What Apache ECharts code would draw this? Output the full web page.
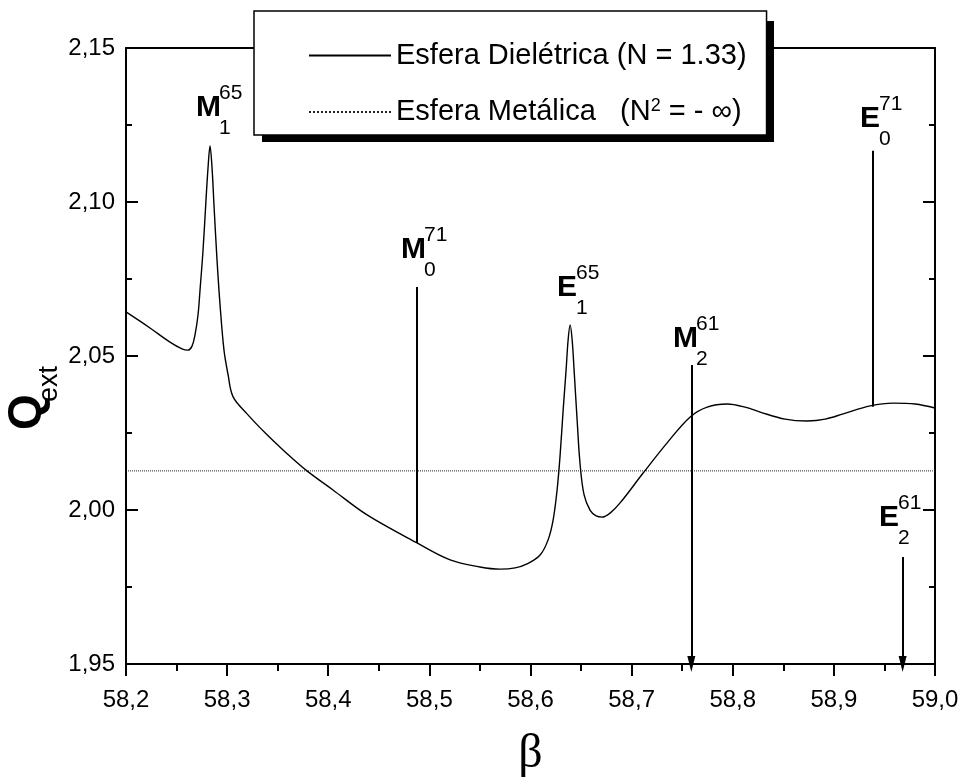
<!DOCTYPE html>
<html>
<head>
<meta charset="utf-8">
<script src="https://cdn.jsdelivr.net/npm/echarts@6/dist/echarts.min.js"></script>
<style>
html, body { margin: 0; padding: 0; background: #fff; }
#main { width: 961px; height: 780px; }
</style>
</head>
<body>
<div id="main"></div>
<script>
var myChart = echarts.init(document.getElementById('main'));

// Esfera dielétrica (N = 1.33): beta / Q_ext
var betaDiel = [58.2000, 58.2237, 58.2435, 58.2554, 58.2613, 58.2653, 58.2682, 58.2712, 58.2732, 58.2762,
    58.2791, 58.2811, 58.2831, 58.2851, 58.2870, 58.2900, 58.2930, 58.2969, 58.3009, 58.3058,
    58.3197, 58.3395, 58.3553, 58.3790, 58.4047, 58.4384, 58.4878, 58.5205, 58.5501,
    58.5699, 58.5848, 58.5966, 58.6095, 58.6174, 58.6224, 58.6263, 58.6293, 58.6323, 58.6352,
    58.6372, 58.6392, 58.6412, 58.6431, 58.6461, 58.6491, 58.6530, 58.6590, 58.6649, 58.6708,
    58.6787, 58.6886, 58.7114, 58.7351, 58.7579, 58.7747, 58.7945, 58.8122, 58.8271, 58.8518,
    58.8736, 58.8914, 58.9092, 58.9359, 58.9587, 58.9804, 59.0000];
var qDiel = [2.0643, 2.0591, 2.0545, 2.0523, 2.0519, 2.0532, 2.0568, 2.0633, 2.0714, 2.0844,
    2.1006, 2.1110, 2.1182, 2.1110, 2.0990, 2.0812, 2.0666, 2.0519, 2.0440, 2.0368,
    2.0312, 2.0244, 2.0195, 2.0127, 2.0065, 1.9984, 1.9893, 1.9838, 1.9815,
    1.9808, 1.9812, 1.9825, 1.9854, 1.9903, 1.9968, 2.0065, 2.0179, 2.0325, 2.0455,
    2.0552, 2.0601, 2.0552, 2.0455, 2.0292, 2.0146, 2.0049, 1.9999, 1.9981, 1.9977,
    1.9990, 2.0023, 2.0120, 2.0218, 2.0302, 2.0334, 2.0344, 2.0334, 2.0318, 2.0295,
    2.0289, 2.0295, 2.0312, 2.0338, 2.0347, 2.0344, 2.0331];

// Esfera metálica (N^2 = -inf)
var betaMetal = [58.2, 59.0];
var qMetal = [2.0127, 2.0127];

// rótulos dos modos (letra, índice inferior, índice superior, posição)
var annoLetter = ['M', 'M', 'E', 'M', 'E', 'E'];
var annoSub = ['1', '0', '1', '2', '0', '2'];
var annoSup = ['65', '71', '65', '61', '71', '61'];
var annoBeta = [58.2692, 58.4719, 58.6262, 58.7409, 58.9258, 58.9446];
var annoQ = [2.1305, 2.0844, 2.0721, 2.0555, 2.1270, 1.9974];

// linhas verticais dos modos
var markBeta = [58.488, 58.759, 58.938, 58.968];
var markTop = [2.0724, 2.0471, 2.1166, 1.9847];
var markBottom = [1.9893, 1.95, 2.0335, 1.95];
var markArrow = [false, true, false, true];

var legendNames = ['Esfera Dielétrica (N = 1.33)', 'Esfera Metálica   (N2 = - ∞)'];

function zip(a, b) {
    return a.map(function (v, i) { return [v, b[i]]; });
}

var markData = markBeta.map(function (b, i) {
    return [
        { coord: [b, markTop[i]], symbol: 'none' },
        { coord: [b, markBottom[i]], symbol: markArrow[i] ? 'triangle' : 'none' }
    ];
});

var font = 'Liberation Sans';
var axisBlack = { color: '#000', width: 2 };

option = {
    backgroundColor: '#fff',
    animation: false,
    grid: {
        left: 126,
        right: 26,
        top: 48,
        bottom: 116,
        outerBoundsMode: 'none'
    },
    legend: {
        left: 254,
        top: 11,
        z: 10,
        orient: 'vertical',
        data: legendNames,
        itemWidth: 82,
        itemHeight: 14,
        itemGap: 27,
        padding: [30, 20, 6, 54],
        backgroundColor: '#fff',
        borderColor: '#000',
        borderWidth: 1.5,
        borderRadius: 0,
        selectedMode: false,
        itemStyle: { opacity: 0, borderWidth: 0 },
        formatter: function (name) {
            if (name === legendNames[1]) {
                return '{t|Esfera Metálica   (N}{s|2}{t| = - ∞)}';
            }
            return '{t|' + name + '}';
        },
        textStyle: {
            width: 360,
            rich: {
                t: { fontSize: 29, fontFamily: font, color: '#000', lineHeight: 30 },
                s: { fontSize: 18, fontFamily: font, color: '#000', verticalAlign: 'top', lineHeight: 30, padding: [0, 0, 14, 0] }
            }
        }
    },
    xAxis: [{
        type: 'value',
        min: 58.2,
        max: 59.0,
        interval: 0.1,
        name: 'β',
        nameLocation: 'middle',
        nameGap: 66,
        nameTextStyle: { fontSize: 48, fontFamily: 'Liberation Serif', color: '#000' },
        axisLine: { lineStyle: axisBlack },
        axisTick: { inside: false, length: 12, lineStyle: axisBlack },
        minorTick: { show: true, splitNumber: 2, length: 7, lineStyle: { color: '#000', width: 2 } },
        splitLine: { show: false },
        axisLabel: {
            margin: 24,
            fontSize: 24,
            fontFamily: font,
            color: '#000',
            formatter: function (v) { return v.toFixed(1).replace('.', ','); }
        }
    }, {
        type: 'value',
        position: 'top',
        min: 58.2,
        max: 59.0,
        interval: 0.1,
        axisLine: { onZero: false, lineStyle: axisBlack },
        axisTick: { show: false },
        axisLabel: { show: false },
        splitLine: { show: false }
    }],
    yAxis: [{
        type: 'value',
        min: 1.95,
        max: 2.15,
        interval: 0.05,
        axisLine: { onZero: false, lineStyle: axisBlack },
        axisTick: { inside: true, length: 12, lineStyle: axisBlack },
        minorTick: { show: true, splitNumber: 2, length: 6, lineStyle: { color: '#000', width: 2 } },
        splitLine: { show: false },
        axisLabel: {
            margin: 11,
            fontSize: 24,
            fontFamily: font,
            color: '#000',
            formatter: function (v) { return v.toFixed(2).replace('.', ','); }
        }
    }, {
        type: 'value',
        position: 'right',
        min: 1.95,
        max: 2.15,
        interval: 0.05,
        axisLine: { onZero: false, lineStyle: axisBlack },
        axisTick: { inside: true, length: 12, lineStyle: axisBlack },
        minorTick: { show: true, splitNumber: 2, length: 6, lineStyle: { color: '#000', width: 2 } },
        axisLabel: { show: false },
        splitLine: { show: false }
    }],
    graphic: [{
        // sombra da caixa da legenda
        type: 'rect',
        z: 5,
        shape: { x: 262, y: 21, width: 512, height: 121 },
        style: { fill: '#000' }
    }, {
        type: 'text',
        x: 27,
        y: 412,
        rotation: Math.PI / 2,
        style: { text: 'Q', fontSize: 46, fontWeight: 'bold', fontFamily: font, fill: '#000', align: 'center', verticalAlign: 'middle' }
    }, {
        type: 'text',
        x: 50,
        y: 384,
        rotation: Math.PI / 2,
        style: { text: 'ext', fontSize: 27, fontFamily: font, fill: '#000', align: 'center', verticalAlign: 'middle' }
    }],
    series: [{
        name: legendNames[0],
        type: 'line',
        data: zip(betaDiel, qDiel),
        symbol: 'none',
        smooth: 0.35,
        lineStyle: { color: '#000', width: 1.4 },
        itemStyle: { color: '#000' },
        z: 3
    }, {
        name: legendNames[1],
        type: 'line',
        data: zip(betaMetal, qMetal),
        symbol: 'none',
        lineStyle: { color: '#222', width: 1, type: 'dotted' },
        itemStyle: { color: '#222' },
        z: 2
    }, {
        name: 'modos',
        type: 'line',
        data: [],
        clip: false,
        markLine: {
            silent: true,
            symbol: ['none', 'none'],
            symbolSize: [8, 16],
            label: { show: false },
            lineStyle: { color: '#000', width: 2, type: 'solid' },
            emphasis: { disabled: true },
            data: markData
        }
    }, {
        name: 'rotulos',
        type: 'custom',
        silent: true,
        clip: false,
        data: zip(annoBeta, annoQ),
        renderItem: function (params, api) {
            var i = params.dataIndex;
            var p = api.coord([api.value(0), api.value(1)]);
            var w = annoLetter[i] === 'M' ? 23 : 19;
            return {
                type: 'group',
                children: [{
                    type: 'text',
                    x: p[0],
                    y: p[1],
                    style: { text: annoLetter[i], fontSize: 30, fontWeight: 'bold', fontFamily: font, fill: '#000', align: 'left', verticalAlign: 'middle' }
                }, {
                    type: 'text',
                    x: p[0] + w,
                    y: p[1] - 15,
                    style: { text: annoSup[i], fontSize: 21, fontFamily: font, fill: '#000', align: 'left', verticalAlign: 'middle' }
                }, {
                    type: 'text',
                    x: p[0] + w,
                    y: p[1] + 20,
                    style: { text: annoSub[i], fontSize: 21, fontFamily: font, fill: '#000', align: 'left', verticalAlign: 'middle' }
                }]
            };
        }
    }]
};
myChart.setOption(option);
</script>
</body>
</html>
